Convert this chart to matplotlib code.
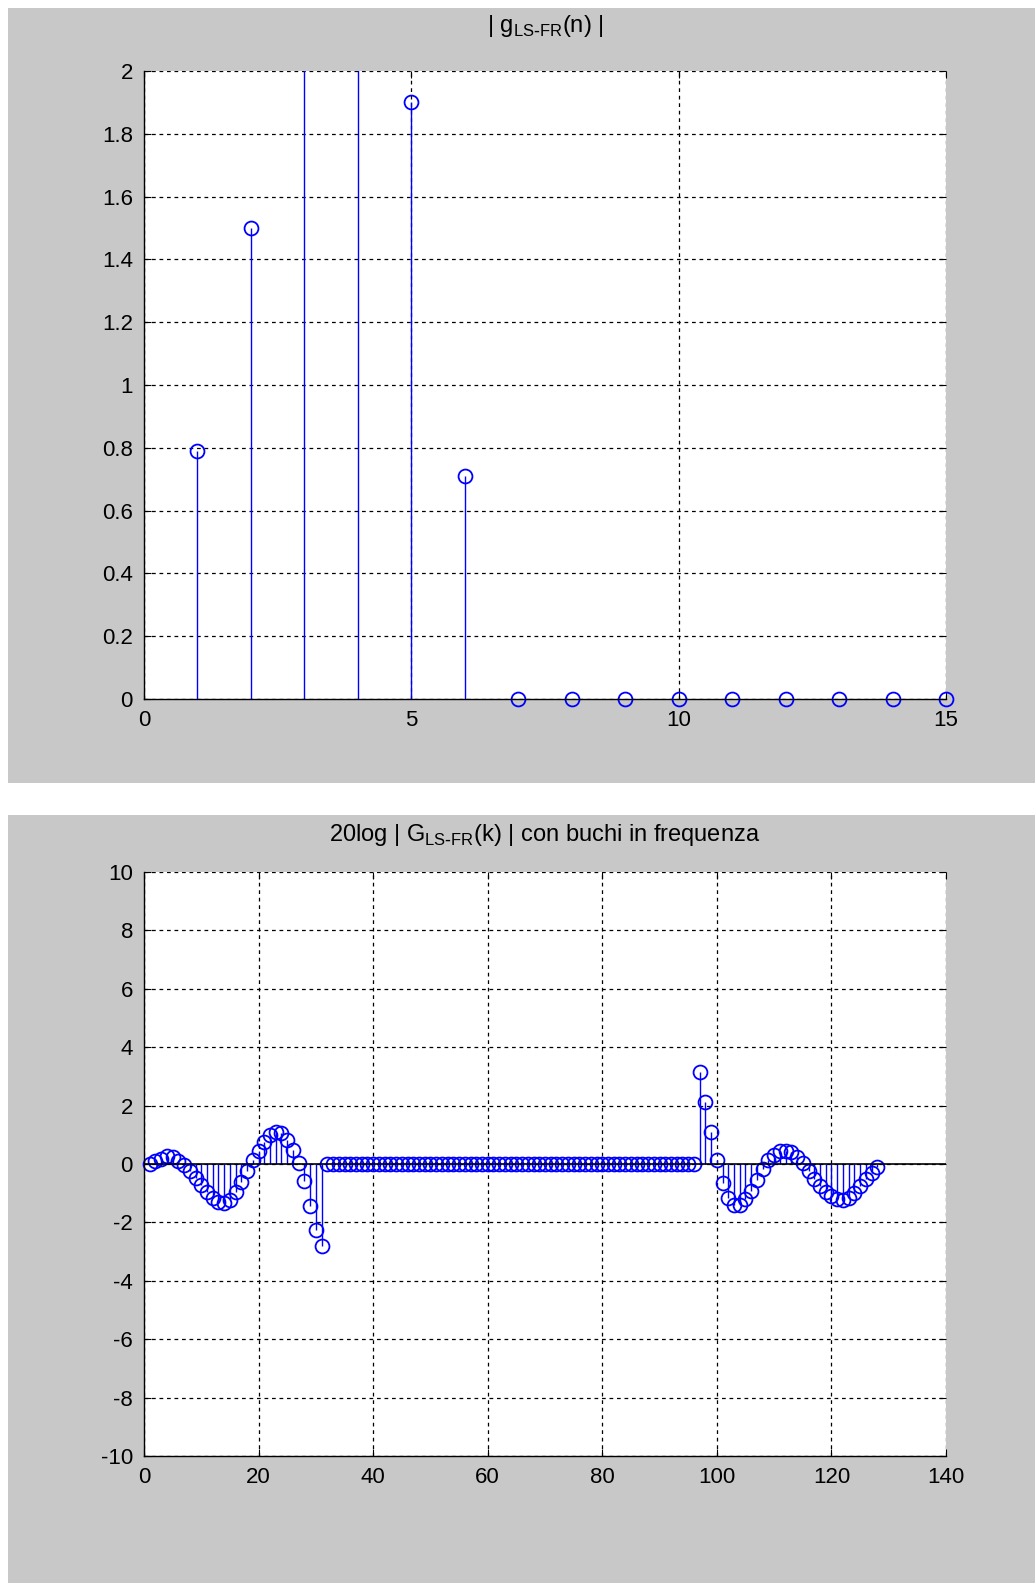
import numpy as np
import matplotlib.pyplot as plt
from matplotlib import font_manager
from matplotlib.patches import Rectangle
from matplotlib.ticker import FormatStrFormatter

# dati
n = np.arange(1, 16)
g_mag = [0.79, 1.50, 2.45, 2.35, 1.90, 0.71, 0, 0, 0, 0, 0, 0, 0, 0, 0]

k = np.arange(1, 129)
G_head = [0.00, 0.10, 0.18, 0.28, 0.25, 0.10, -0.05, -0.25, -0.48, -0.72,
          -0.95, -1.15, -1.30, -1.33, -1.22, -0.95, -0.62, -0.25, 0.12, 0.45,
          0.75, 0.98, 1.08, 1.05, 0.82, 0.48, 0.05, -0.57, -1.45, -2.25, -2.82]
G_holes = [0.0] * 65
G_tail = [3.15, 2.12, 1.08, 0.12, -0.65, -1.15, -1.42, -1.40, -1.20, -0.92,
          -0.55, -0.18, 0.12, 0.32, 0.43, 0.46, 0.40, 0.24, 0.02, -0.25,
          -0.50, -0.75, -0.95, -1.10, -1.20, -1.22, -1.15, -0.98, -0.76, -0.52,
          -0.30, -0.10]
G_db = G_head + G_holes + G_tail

names = {f.name for f in font_manager.fontManager.ttflist}
fam = 'Liberation Sans Narrow' if 'Liberation Sans Narrow' in names else 'Liberation Sans'
plt.rcParams['font.family'] = [fam, 'DejaVu Sans']
plt.rcParams['font.size'] = 16
plt.rcParams['axes.unicode_minus'] = False

W, H = 1035, 1583
fig = plt.figure(figsize=(W / 100, H / 100), dpi=100)
fig.patch.set_facecolor('white')
# pannelli grigi stile MATLAB
fig.patches.append(Rectangle((8 / W, 1 - 783 / H), 1, 775 / H, transform=fig.transFigure,
                             facecolor='#c8c8c8', edgecolor='none', zorder=-10))
fig.patches.append(Rectangle((8 / W, 0), 1, 768 / H, transform=fig.transFigure,
                             facecolor='#c8c8c8', edgecolor='none', zorder=-10))

left, width = 144 / W, (946 - 144) / W
ax1 = fig.add_axes([left, 1 - 699 / H, width, (699 - 71) / H])
ax2 = fig.add_axes([left, 1 - 1456 / H, width, (1456 - 872) / H])


def matlab_style(ax):
    ax.set_facecolor('white')
    ax.grid(True, color='black', linestyle=(0, (3, 3)), linewidth=0.9)
    ax.set_axisbelow(True)
    for s in ['top', 'right']:
        ax.spines[s].set_visible(False)
    for s in ['left', 'bottom']:
        ax.spines[s].set_linewidth(1.0)
    ax.tick_params(direction='in', top=True, right=True, length=5, width=0.8,
                   labelsize=16, pad=8)


# --- grafico superiore
g_arr = np.array(g_mag)
ax1.vlines(n, 0, g_arr, color='blue', linewidth=1.0)
ok = g_arr <= 2
ax1.plot(n[ok], g_arr[ok], 'o', color='blue', mfc='none', ms=10, mew=1.3, clip_on=False)
ax1.set_xlim(0, 15)
ax1.set_ylim(0, 2)
ax1.set_xticks([0, 5, 10, 15])
ax1.set_yticks(np.arange(0, 2.01, 0.2))
ax1.yaxis.set_major_formatter(FormatStrFormatter('%g'))
matlab_style(ax1)
ax1.set_title(r'| g$_{\mathregular{LS\text{-}FR}}$(n) |', fontsize=17, pad=28)

# --- grafico inferiore
G_arr = np.array(G_db)
ax2.vlines(k, 0, G_arr, color='blue', linewidth=1.0)
ax2.plot(k, G_arr, 'o', color='blue', mfc='none', ms=10, mew=1.3, clip_on=False)
ax2.axhline(0, color='black', linewidth=1.2)
ax2.set_xlim(0, 140)
ax2.set_ylim(-10, 10)
ax2.set_xticks(np.arange(0, 141, 20))
ax2.set_yticks(np.arange(-10, 11, 2))
matlab_style(ax2)
ax2.set_title(r'20log | G$_{\mathregular{LS\text{-}FR}}$(k) | con buchi in frequenza',
              fontsize=17, pad=22)

fig.savefig('out.png', dpi=100, facecolor=fig.get_facecolor())
